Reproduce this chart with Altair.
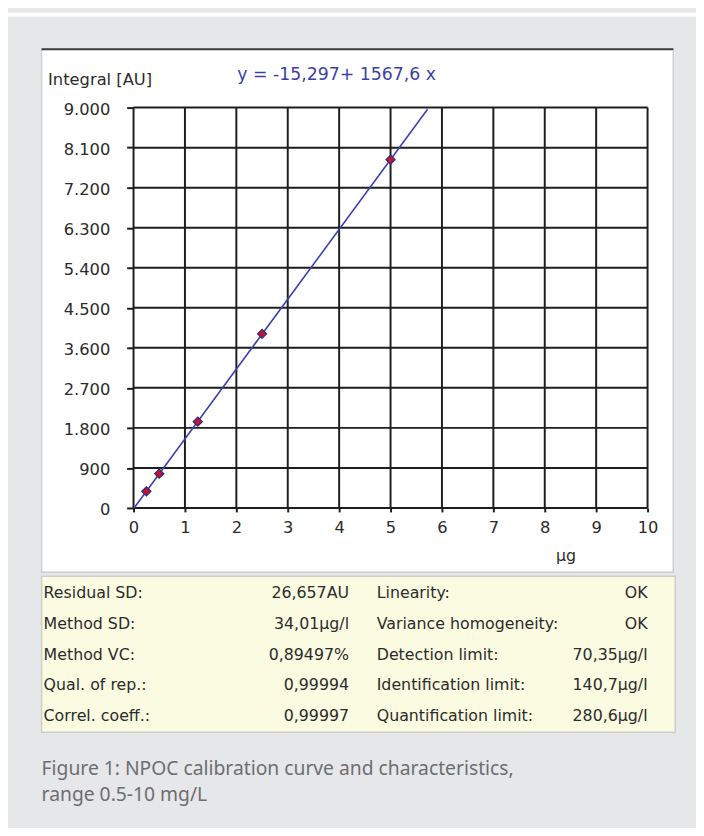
import altair as alt
import pandas as pd

# ---------------- data ----------------
CONC = [0.25, 0.5, 1.25, 2.5, 5.0]
INTEGRAL = [375, 770, 1940, 3915, 7830]
X_TICKS = list(range(0, 11))
Y_TICKS = [0, 900, 1800, 2700, 3600, 4500, 5400, 6300, 7200, 8100, 9000]
FIT_EXTENT = [0, 5.72]
EQUATION = "y = -15,297+ 1567,6 x"
Y_TITLE = "Integral [AU]"
X_TITLE = "µg"
STAT_LABELS_L = ["Residual SD:", "Method SD:", "Method VC:", "Qual. of rep.:", "Correl. coeff.:"]
STAT_VALUES_L = ["26,657AU", "34,01µg/l", "0,89497%", "0,99994", "0,99997"]
STAT_LABELS_R = ["Linearity:", "Variance homogeneity:", "Detection limit:",
                 "Identification limit:", "Quantification limit:"]
STAT_VALUES_R = ["OK", "OK", "70,35µg/l", "140,7µg/l", "280,6µg/l"]
CAPTION = ["Figure 1: NPOC calibration curve and characteristics,", "range 0.5-10 mg/L"]

# ---------------- style ----------------
W, H = 520, 405
FONT = "DejaVu Sans"
TXT = "#2b2b2b"
GRID = "#1e1e1e"
BG = "#e6e7e9"

points_df = pd.DataFrame({"x": CONC, "y": INTEGRAL})
stats_df = pd.DataFrame({
    "row": list(range(len(STAT_LABELS_L))),
    "l1": STAT_LABELS_L, "v1": STAT_VALUES_L,
    "l2": STAT_LABELS_R, "v2": STAT_VALUES_R,
})
cap_df = pd.DataFrame({"i": list(range(len(CAPTION))), "t": CAPTION})
one = pd.DataFrame({"a": [0]})

xscale = alt.Scale(domain=[0, 10], nice=False, zero=False)
yscale = alt.Scale(domain=[0, 9000], nice=False, zero=False)

xaxis = alt.Axis(values=X_TICKS, grid=False, domain=False, tickSize=4, tickWidth=2,
                 tickColor=GRID, labelPadding=8, labelFont=FONT, labelFontSize=16.5,
                 labelColor=TXT, labelFlush=False, labelOverlap=False, zindex=1,
                 title=X_TITLE, titleFont=FONT, titleFontSize=16, titleFontWeight="normal",
                 titleColor=TXT, titleX=437, titleY=48, titleBaseline="middle",
                 titleAlign="center")
yaxis = alt.Axis(values=Y_TICKS, grid=False, domain=False, tickSize=7, tickWidth=2,
                 tickColor=GRID, labelPadding=17, labelFont=FONT, labelFontSize=16.5,
                 labelColor=TXT, labelFlush=False, labelOverlap=False, labelOffset=2,
                 labelExpr="replace(format(datum.value, ','), ',', '.')", zindex=1,
                 title=Y_TITLE, titleFont=FONT, titleFontSize=16.5, titleFontWeight="normal",
                 titleColor=TXT, titleAngle=0, titleAlign="left", titleX=-87, titleY=-23,
                 titleBaseline="alphabetic")


def box(x1, x2, y1, y2, fill, stroke=None, sw=0):
    kw = dict(fill=fill)
    if stroke:
        kw.update(stroke=stroke, strokeWidth=sw)
    return alt.Chart(one).mark_rect(**kw).encode(
        x=alt.value(x1), x2=alt.value(x2), y=alt.value(y1), y2=alt.value(y2))


top_strip = box(-127, 569, -96, -92, "white")
panel = box(-93, 546, -59, 470, "white", "#cfcfcf", 1.5)
panel_top = alt.Chart(one).mark_rule(color="#3c3c3c", strokeWidth=2).encode(
    x=alt.value(-93), x2=alt.value(546), y=alt.value(-59))
table_bg = box(-93, 548, 474, 632, "#fbfbe2", "#cdcdcd", 1.5)

vgrid = alt.Chart(pd.DataFrame({"x": X_TICKS})).mark_rule(color=GRID, strokeWidth=2).encode(
    x=alt.X("x:Q", scale=xscale, axis=xaxis), y=alt.value(0), y2=alt.value(H))
hgrid = alt.Chart(pd.DataFrame({"y": Y_TICKS})).mark_rule(color=GRID, strokeWidth=2).encode(
    y=alt.Y("y:Q", scale=yscale, axis=yaxis), x=alt.value(0), x2=alt.value(W))

fit = alt.Chart(points_df).transform_regression(
    "x", "y", extent=FIT_EXTENT).mark_line(color="#3a40b0", strokeWidth=1.6).encode(
    x=alt.X("x:Q", scale=xscale, axis=xaxis),
    y=alt.Y("y:Q", scale=yscale, axis=yaxis))

pts = alt.Chart(points_df).mark_point(
    shape="diamond", filled=True, size=85, fill="#c4122f", stroke="#2b2b80",
    strokeWidth=1.2, opacity=1).encode(
    x=alt.X("x:Q", scale=xscale, axis=xaxis),
    y=alt.Y("y:Q", scale=yscale, axis=yaxis))

eq = alt.Chart(pd.DataFrame({"t": [EQUATION]})).mark_text(
    font=FONT, fontSize=17.5, color="#3a3fa8", align="left", baseline="alphabetic").encode(
    text="t:N", x=alt.value(105), y=alt.value(-28))


def stat_col(field, xpos, align):
    return alt.Chart(stats_df).transform_calculate(
        py="496 + 31.2 * datum.row").mark_text(
        font=FONT, fontSize=16, color=TXT, align=align, baseline="alphabetic").encode(
        text=f"{field}:N", x=alt.value(xpos), y=alt.Y("py:Q", scale=None))


s1 = stat_col("l1", -91, "left")
s2 = stat_col("v1", 218, "right")
s3 = stat_col("l2", 246, "left")
s4 = stat_col("v2", 520, "right")

cap = alt.Chart(cap_df).transform_calculate(py="675 + 26 * datum.i").mark_text(
    font="Noto Sans", fontSize=19.5, color="#6d6e71", align="left",
    baseline="alphabetic").encode(
    text="t:N", x=alt.value(-93), y=alt.Y("py:Q", scale=None))

chart = alt.layer(
    top_strip, panel, panel_top, table_bg, vgrid, hgrid, fit, pts, eq,
    s1, s2, s3, s4, cap
).properties(
    width=W, height=H,
    autosize=alt.AutoSizeParams(type="none"),
    padding={"left": 127, "top": 96, "right": 49, "bottom": 319},
).configure(background=BG).configure_view(strokeWidth=0)

chart.save("out.html", embed_options={"renderer": "svg", "actions": False})
